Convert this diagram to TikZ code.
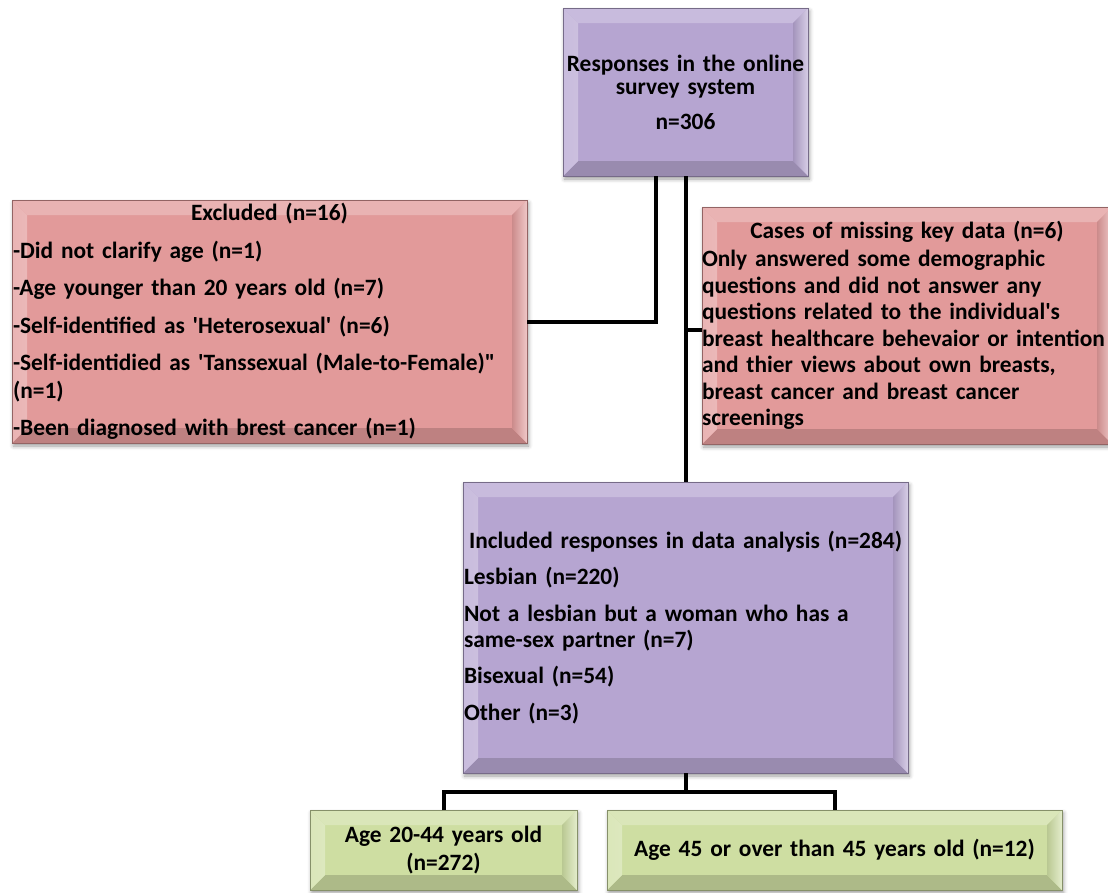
\documentclass[tikz,border=0pt]{standalone}
\usepackage{fontspec}
\setmainfont{Carlito}[Ligatures=TeXOff]
\usetikzlibrary{calc,shadows.blur}
\hyphenpenalty=10000
\exhyphenpenalty=10000

\definecolor{lilac}{RGB}{182,165,209}
\definecolor{rose}{RGB}{226,154,154}
\definecolor{sage}{RGB}{206,222,162}

\tikzset{
  conn/.style={line width=4pt, black},
  % bevelled panel: flat face with lit top/left and shaded right/bottom edges
  bevelbox/.style={
    fill=#1, draw=#1!65!black, line width=0.6pt,
    blur shadow={shadow xshift=1.5pt, shadow yshift=-3pt, shadow blur radius=4pt, shadow opacity=40},
    anchor=north west, outer sep=0pt, inner ysep=0pt,
    path picture={
      \path (path picture bounding box.north west) coordinate (bNW)
            (path picture bounding box.north east) coordinate (bNE)
            (path picture bounding box.south east) coordinate (bSE)
            (path picture bounding box.south west) coordinate (bSW);
      \path ($(bNW)+(15pt,-15pt)$) coordinate (iNW)
            ($(bNE)+(-15pt,-15pt)$) coordinate (iNE)
            ($(bSE)+(-15pt,15pt)$) coordinate (iSE)
            ($(bSW)+(15pt,15pt)$) coordinate (iSW);
      \fill[#1!75!white] (bNW) -- (bNE) -- (iNE) -- (iNW) -- cycle;
      \fill[#1!84!black] (bSW) -- (bSE) -- (iSE) -- (iSW) -- cycle;
      \shade[left color=#1!90!black, right color=#1!55!white]
            (bNE) -- (bSE) -- (iSE) -- (iNE) -- cycle;
      \shade[left color=#1!75!white, middle color=#1!15!white, right color=#1!70!white]
            (bNW) -- (iNW) -- (iSW) -- (bSW) -- cycle;
    }
  },
  boxtext/.style={font=\bfseries\fontsize{23.4}{#1}\selectfont}
}

\begin{document}
\begin{tikzpicture}[x=1pt,y=-1pt]
\useasboundingbox (0,0) rectangle (1108,892);
\clip (0,0) rectangle (1108,892);

% survey responses
\node[bevelbox=lilac, boxtext=23, minimum width=245, minimum height=168,
      text width=245pt, inner xsep=0pt, align=center] (top) at (563,8)
  {Responses in the online\\ survey system\\[12pt] n=306\\[4pt]};

% exclusions
\node[bevelbox=rose, boxtext=27.5, minimum width=515, minimum height=243,
      text width=513pt, inner xsep=1pt, align=left] (excl) at (12,200)
  {\setlength{\parskip}{10pt}%
   {\centering Excluded (n=16)\par}
   -Did not clarify age (n=1)\par
   -Age younger than 20 years old (n=7)\par
   -Self-identified as 'Heterosexual' (n=6)\par
   -Self-identidied as 'Tanssexual (Male-to-Female)"\\ (n=1)\par
   -Been diagnosed with brest cancer (n=1)\par};

% missing data
\node[bevelbox=rose, boxtext=26.5, minimum width=410, minimum height=237,
      text width=410pt, inner xsep=0pt, align=left] (miss) at (702,207)
  {\setlength{\parskip}{2pt}%
   {\centering Cases of missing key data (n=6)\par}
   Only answered some demographic\\
   questions and did not answer any\\
   questions related to the individual's\\
   breast healthcare behevaior or intention\\
   and thier views about own breasts,\\
   breast cancer and breast cancer\\
   screenings\par};

% included responses
\node[bevelbox=lilac, boxtext=26, minimum width=445, minimum height=291,
      text width=443pt, inner xsep=1pt, align=left] (incl) at (463,482)
  {\setlength{\parskip}{10.5pt}%
   {\centering Included responses in data analysis (n=284)\par}
   Lesbian (n=220)\par
   Not a lesbian but a woman who has a\\
   same-sex partner (n=7)\par
   Bisexual (n=54)\par
   Other (n=3)\par};

% age groups
\node[bevelbox=sage, boxtext=28, minimum width=267, minimum height=80,
      text width=267pt, inner xsep=0pt, align=center] (young) at (310,810)
  {Age 20-44 years old\\ (n=272)};
\node[bevelbox=sage, boxtext=28, minimum width=455, minimum height=80,
      text width=455pt, inner xsep=0pt, align=center] (old) at (607,810)
  {Age 45 or over than 45 years old (n=12)};

% connectors
\draw[conn] ([xshift=-30pt]top.south) |- (excl.east);
\draw[conn] (top.south) -- (incl.north);
\draw[conn] ([yshift=-4pt]miss.west) -- ([yshift=-4pt]miss.west -| top.south);
\coordinate (fork) at ($(incl.south)+(0,19)$);
\draw[conn] (incl.south) -- (fork);
\draw[conn] (young.north) |- (fork) -| (old.north);
\end{tikzpicture}
\end{document}
